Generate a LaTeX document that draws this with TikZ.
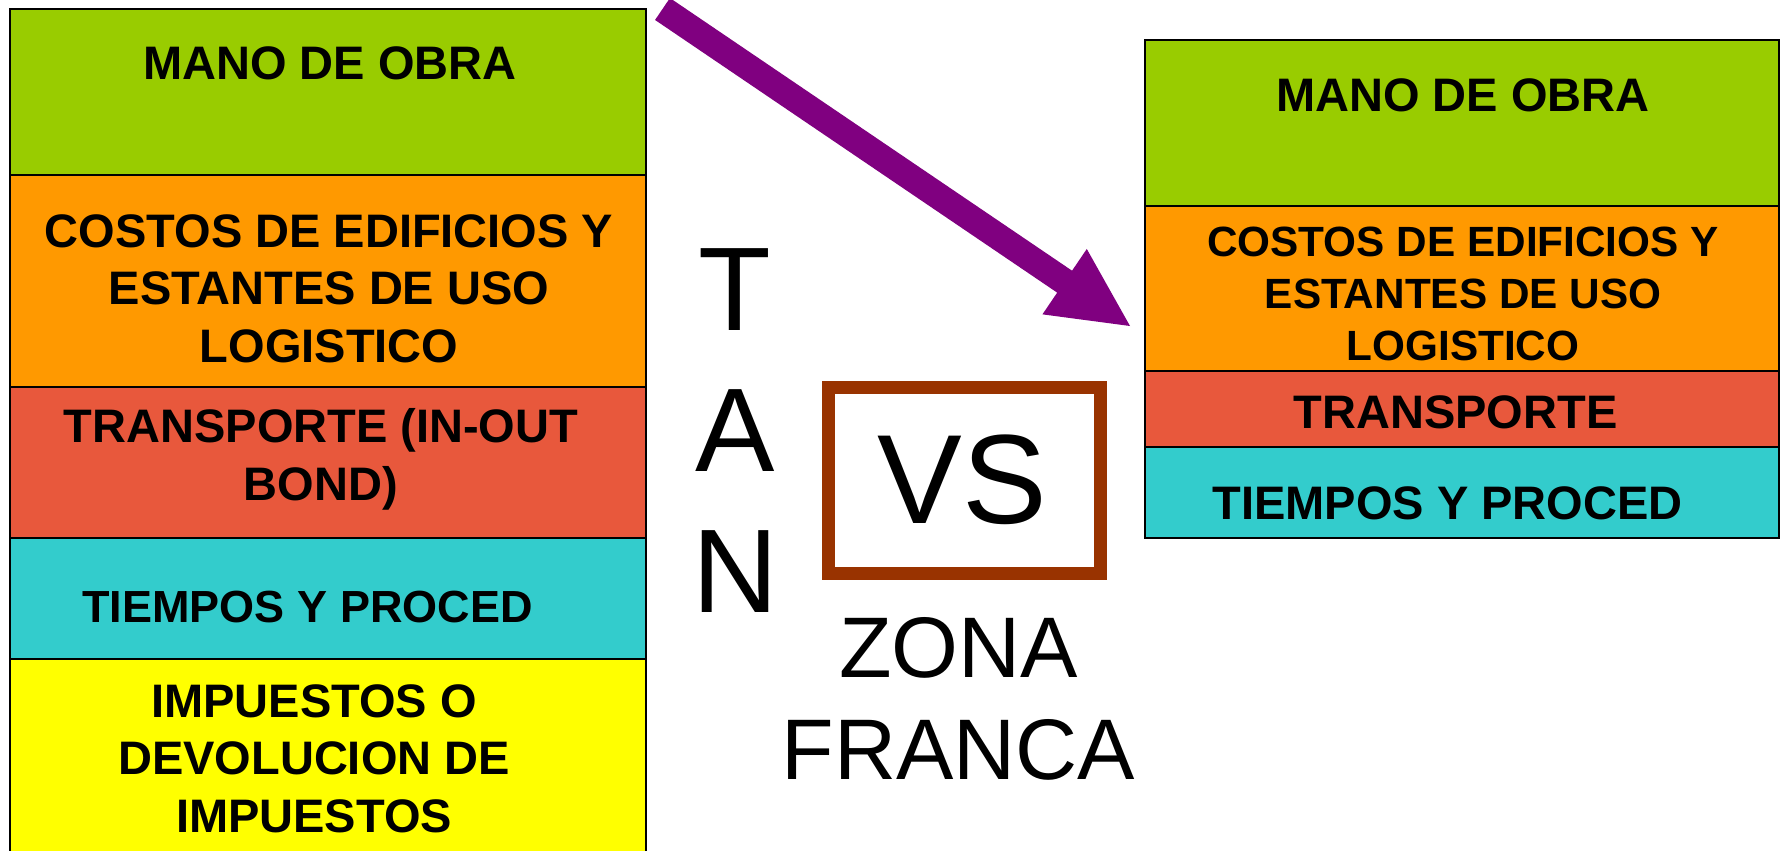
\documentclass[tikz,border=0pt]{standalone}
\usepackage{fontspec}
\setmainfont{Liberation Sans}
\usetikzlibrary{calc}
\definecolor{cgreen}{HTML}{99CC00}
\definecolor{corange}{HTML}{FF9900}
\definecolor{cred}{HTML}{E8583C}
\definecolor{ccyan}{HTML}{33CCCC}
\definecolor{cyellow}{HTML}{FFFF00}
\definecolor{cpurple}{HTML}{800080}
\definecolor{cbrown}{HTML}{993300}
\tikzset{
  layer/.style={draw=black, line width=2pt},
  lbl/.style={font=\bfseries\fontsize{47}{57.5}\selectfont, align=center, anchor=base, inner sep=0pt},
  lblsmall/.style={lbl, font=\bfseries\fontsize{42.3}{51.7}\selectfont},
  bigtxt/.style={anchor=base, inner sep=0pt, align=center},
}
\begin{document}
\begin{tikzpicture}[x=1pt, y=-1pt]
\path[use as bounding box, fill=white] (0,0) rectangle (1785,851);

% left stack
\filldraw[layer, fill=cgreen]  (10,9)   rectangle (646,175);
\filldraw[layer, fill=corange] (10,175) rectangle (646,387);
\filldraw[layer, fill=cred]    (10,387) rectangle (646,538);
\filldraw[layer, fill=ccyan]   (10,538) rectangle (646,659);
\filldraw[layer, fill=cyellow] (10,659) rectangle (646,870);

% (multi-line nodes: base anchor = baseline of last line)
\node[lbl] (l1) at (330,80) {MANO DE OBRA};
\node[lbl] (l2) at (329,362) {COSTOS DE EDIFICIOS Y\\ESTANTES DE USO\\LOGISTICO};
\node[lbl] (l3) at (321,500) {TRANSPORTE (IN-OUT\\BOND)};
\node[lbl, font=\bfseries\fontsize{45}{55}\selectfont] (l4) at (307.5,622) {TIEMPOS Y PROCED};
\node[lbl] (l5) at (314,832) {IMPUESTOS O\\DEVOLUCION DE\\IMPUESTOS};

% right stack
\filldraw[layer, fill=cgreen]  (1145,40)  rectangle (1779,206);
\filldraw[layer, fill=corange] (1145,206) rectangle (1779,371);
\filldraw[layer, fill=cred]    (1145,371) rectangle (1779,447);
\filldraw[layer, fill=ccyan]   (1145,447) rectangle (1779,538);

\node[lbl] (r1) at (1463,111) {MANO DE OBRA};
\node[lblsmall] (r2) at (1463,360) {COSTOS DE EDIFICIOS Y\\ESTANTES DE USO\\LOGISTICO};
\node[lbl] (r3) at (1455.5,428) {TRANSPORTE};
\node[lbl] (r4) at (1447.5,519) {TIEMPOS Y PROCED};

% TAN
\node[bigtxt, font=\fontsize{119}{141}\selectfont] (tan) at (735,612) {T\\A\\N};

% VS box
\node[draw=cbrown, line width=13pt, minimum width=272pt, minimum height=186pt, inner sep=0pt] (vsbox) at (964,480) {};
\node[bigtxt, font=\fontsize{127}{140}\selectfont] (vs) at (962,523) {VS};

% ZONA FRANCA
\node[bigtxt, font=\fontsize{86}{102}\selectfont] (zf) at (958.5,779) {ZONA\\FRANCA};

% arrow
\coordinate (tail) at (662.5,9);
\coordinate (tip) at (1130,326);
\coordinate (hb) at ($(tip)!79pt!(tail)$);
\fill[cpurple]
  ($(tail)!13.25pt!90:(tip)$) --
  ($(hb)!13.25pt!-90:(tail)$) --
  ($(hb)!39.5pt!-90:(tail)$) --
  (tip) --
  ($(hb)!39.5pt!90:(tail)$) --
  ($(hb)!13.25pt!90:(tail)$) --
  ($(tail)!13.25pt!-90:(tip)$) -- cycle;
\end{tikzpicture}
\end{document}
